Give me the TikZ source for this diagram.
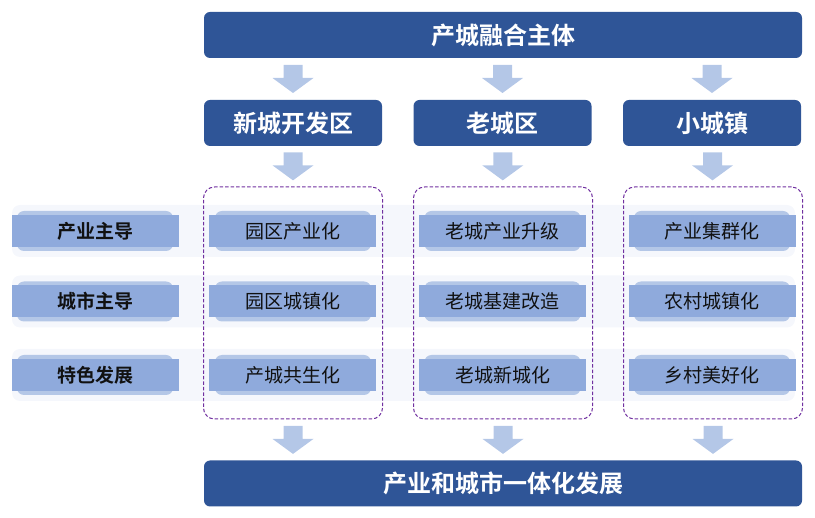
\documentclass[tikz,border=0pt]{standalone}
\usepackage{fontspec}
\setmainfont{Noto Sans CJK SC}[BoldFont={Noto Sans CJK SC Bold}]
\usetikzlibrary{calc}
\definecolor{darkblue}{HTML}{2F5597}
\definecolor{arrowblue}{HTML}{B4C7E7}
\definecolor{celldarkc}{HTML}{8FAADC}
\definecolor{celllightc}{HTML}{B4C7E7}
\definecolor{bandc}{HTML}{F5F7FC}
\definecolor{dashc}{HTML}{7030A0}
\definecolor{textc}{HTML}{111111}
\tikzset{
  mainbar/.style={fill=darkblue, rounded corners=6pt, text=white, font=\bfseries\fontsize{24}{27}\selectfont, inner sep=0pt, minimum height=46pt},
  colhead/.style={mainbar, minimum width=178pt, font=\bfseries\fontsize{24}{27}\selectfont},
  bandbox/.style={fill=bandc, rounded corners=8pt, inner sep=0pt, minimum width=783pt, minimum height=52pt},
  celllight/.style={fill=celllightc, rounded corners=7pt, inner sep=0pt, minimum width=156pt, minimum height=40pt},
  celldark/.style={fill=celldarkc, inner sep=0pt, minimum width=167pt, minimum height=32pt, text=textc, font=\fontsize{19}{22}\selectfont},
  labeldark/.style={celldark, font=\bfseries\fontsize{19}{22}\selectfont},
  groupbox/.style={draw=dashc, line width=1pt, dash pattern=on 3.5pt off 2pt, rounded corners=11pt, inner sep=0pt, minimum width=179pt, minimum height=232pt},
  pics/dnarrow/.style={code={
    \fill[arrowblue] (-9.5,-14) -- (9.5,-14) -- (9.5,-1) -- (20.5,-1) -- (0,14) -- (-20.5,-1) -- (-9.5,-1) -- cycle;}}
}
\begin{document}
\begin{tikzpicture}[x=1pt,y=-1pt]
\useasboundingbox (0,0) rectangle (815,518);
% bars
\node[mainbar, minimum width=598pt] (top) at (503,35) {产城融合主体};
\node[mainbar, minimum width=598pt] (bottom) at (503,483.5) {产业和城市一体化发展};
% column heads
\node[colhead] (h1) at (293,123) {新城开发区};
\node[colhead] (h2) at (502.5,123) {老城区};
\node[colhead] (h3) at (712,123) {小城镇};
% bands
\node[bandbox] (b1) at (403.5,231) {};
\node[bandbox] (b2) at (403.5,301.5) {};
\node[bandbox] (b3) at (403.5,375) {};
% group boxes
\node[groupbox] (g1) at (293,303) {};
\node[groupbox] (g2) at (503,303) {};
\node[groupbox] (g3) at (713,303) {};
% row labels
\foreach \y/\t/\n in {231/产业主导/1, 301.5/城市主导/2, 375/特色发展/3}{
  \node[celllight] (l\n bg) at (95,\y) {};
  \node[labeldark] (l\n) at (95.5,\y) {\t};
}
% cells
\foreach \y/\a/\b/\c/\n in {231/园区产业化/老城产业升级/产业集群化/1, 301.5/园区城镇化/老城基建改造/农村城镇化/2, 375/产城共生化/老城新城化/乡村美好化/3}{
  \node[celllight] (c1\n bg) at (293,\y) {};
  \node[celldark] (c1\n) at (292.5,\y) {\a};
  \node[celllight] (c2\n bg) at (502.5,\y) {};
  \node[celldark] (c2\n) at (502.5,\y) {\b};
  \node[celllight] (c3\n bg) at (712,\y) {};
  \node[celldark] (c3\n) at (712,\y) {\c};
}
% arrows
\pic at ($(top.south -| h1)!0.5!(h1.north)$) {dnarrow};
\pic at ($(top.south -| h2)!0.5!(h2.north)$) {dnarrow};
\pic at ($(top.south -| h3)!0.5!(h3.north)$) {dnarrow};
\pic at ($(h1.south)!0.5!(g1.north)$) {dnarrow};
\pic at ($(h2.south)!0.5!(g2.north)$) {dnarrow};
\pic at ($(h3.south)!0.5!(g3.north)$) {dnarrow};
\pic at ($(g1.south)!0.5!(bottom.north -| g1)$) {dnarrow};
\pic at ($(g2.south)!0.5!(bottom.north -| g2)$) {dnarrow};
\pic at ($(g3.south)!0.5!(bottom.north -| g3)$) {dnarrow};
\end{tikzpicture}
\end{document}
